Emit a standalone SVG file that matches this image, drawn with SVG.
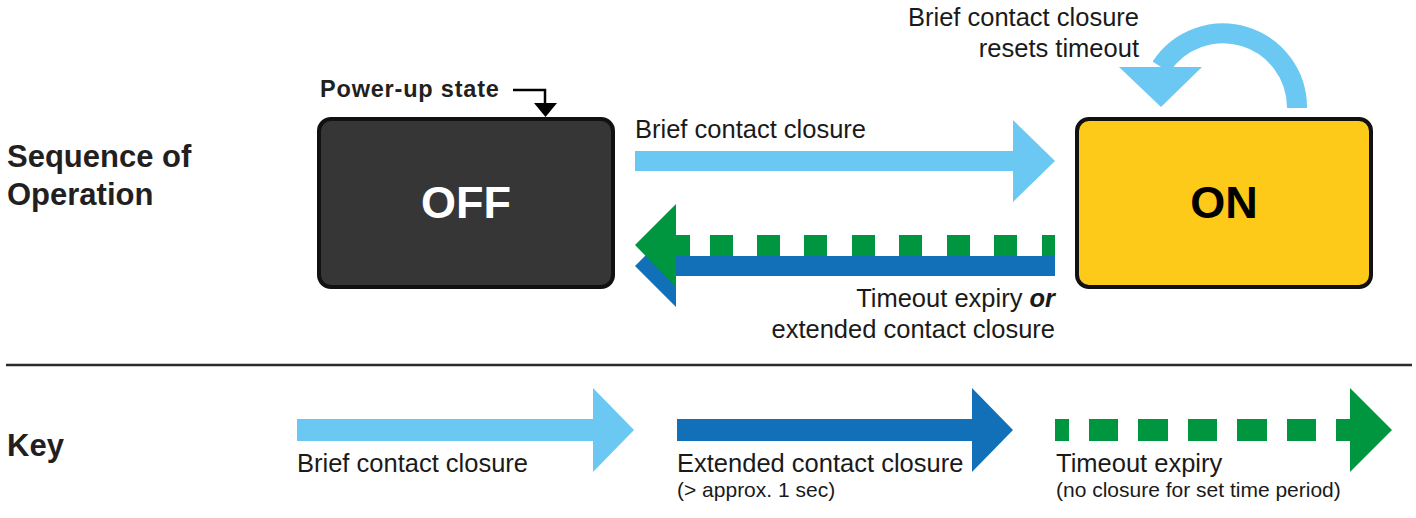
<svg xmlns="http://www.w3.org/2000/svg" width="1416" height="518" viewBox="0 0 1416 518">
<style>
.lbl{font-family:"Liberation Sans",Arial,sans-serif;font-size:25.5px;fill:#1a1a1a}
.sm{font-family:"Liberation Sans",Arial,sans-serif;font-size:21px;fill:#1a1a1a}
.hd{font-family:"Liberation Sans",Arial,sans-serif;font-weight:bold;fill:#231f20}
.box{stroke:#111;stroke-width:4}
.lb{fill:#6AC8F2}
.db{fill:#1170B8}
.gr{fill:#009640}
</style>
<rect width="1416" height="518" fill="#fff"/>
<text class="hd" x="7" y="167" font-size="31">Sequence of</text>
<text class="hd" x="7" y="205" font-size="31">Operation</text>
<text class="hd" x="7" y="456" font-size="31">Key</text>
<line x1="6" y1="365" x2="1412" y2="365" stroke="#2b2b2b" stroke-width="2.5"/>
<g id="off">
<rect class="box" x="319" y="119" width="294" height="168" rx="12" fill="#363636"/>
<text class="hd" x="466" y="218" font-size="45" text-anchor="middle" style="fill:#fff">OFF</text>
</g>
<g id="on">
<rect class="box" x="1077" y="119" width="294" height="168" rx="12" fill="#FDCA19"/>
<text class="hd" x="1224" y="218" font-size="45" text-anchor="middle" style="fill:#000">ON</text>
</g>
<g id="powerup">
<text class="hd" x="320" y="97" font-size="23.5" letter-spacing="0.8">Power-up state</text>
<path d="M513,90 H545 V104" fill="none" stroke="#000" stroke-width="2.5"/>
<polygon points="534,103 557,103 545.5,117" fill="#000"/>
</g>
<g id="connectors">
<g id="brief">
<rect class="lb" x="635" y="151" width="379" height="20"/>
<polygon class="lb" points="1013,120 1055,161 1013,202"/>
<text class="lbl" x="635" y="138">Brief contact closure</text>
</g>
<g id="back">
<rect class="db" x="675" y="256" width="380" height="20"/>
<polygon class="db" points="676,225 635,266 676,307"/>
<polygon class="gr" points="676,204 635,245 676,287"/>
<rect class="gr" x="675" y="235" width="15" height="21"/>
<rect class="gr" x="710" y="235" width="23" height="21"/>
<rect class="gr" x="757" y="235" width="23" height="21"/>
<rect class="gr" x="804" y="235" width="23" height="21"/>
<rect class="gr" x="852" y="235" width="23" height="21"/>
<rect class="gr" x="899" y="235" width="23" height="21"/>
<rect class="gr" x="947" y="235" width="23" height="21"/>
<rect class="gr" x="994" y="235" width="23" height="21"/>
<rect class="gr" x="1042" y="235" width="13" height="21"/>
<text class="lbl" x="1055" y="307" text-anchor="end">Timeout expiry <tspan font-weight="bold" font-style="italic">or</tspan></text>
<text class="lbl" x="1055" y="338" text-anchor="end">extended contact closure</text>
</g>
<g id="self">
<path d="M1297,108 A74,74 0 0 0 1161,67" fill="none" stroke="#6AC8F2" stroke-width="20"/>
<polygon class="lb" points="1119,67 1202,67 1161,107"/>
<text class="lbl" x="1139" y="26" text-anchor="end">Brief contact closure</text>
<text class="lbl" x="1139" y="57" text-anchor="end">resets timeout</text>
</g>
</g>
<g id="key">
<g id="key-brief">
<rect class="lb" x="297" y="419" width="297" height="22"/>
<polygon class="lb" points="593,388 634,430 593,472"/>
<text class="lbl" x="297" y="472">Brief contact closure</text>
</g>
<g id="key-extended">
<rect class="db" x="677" y="419" width="296" height="22"/>
<polygon class="db" points="972,388 1013,430 972,472"/>
<text class="lbl" x="677" y="472">Extended contact closure</text>
<text class="sm" x="677" y="497">(&gt; approx. 1 sec)</text>
</g>
<g id="key-timeout">
<rect class="gr" x="1055" y="419" width="14" height="22"/>
<rect class="gr" x="1089" y="419" width="29" height="22"/>
<rect class="gr" x="1138" y="419" width="30" height="22"/>
<rect class="gr" x="1188" y="419" width="29" height="22"/>
<rect class="gr" x="1237" y="419" width="30" height="22"/>
<rect class="gr" x="1287" y="419" width="29" height="22"/>
<rect class="gr" x="1336" y="419" width="15" height="22"/>
<polygon class="gr" points="1350,388 1392,430 1350,472"/>
<text class="lbl" x="1056" y="472">Timeout expiry</text>
<text class="sm" x="1056" y="497">(no closure for set time period)</text>
</g>
</g>
</svg>
